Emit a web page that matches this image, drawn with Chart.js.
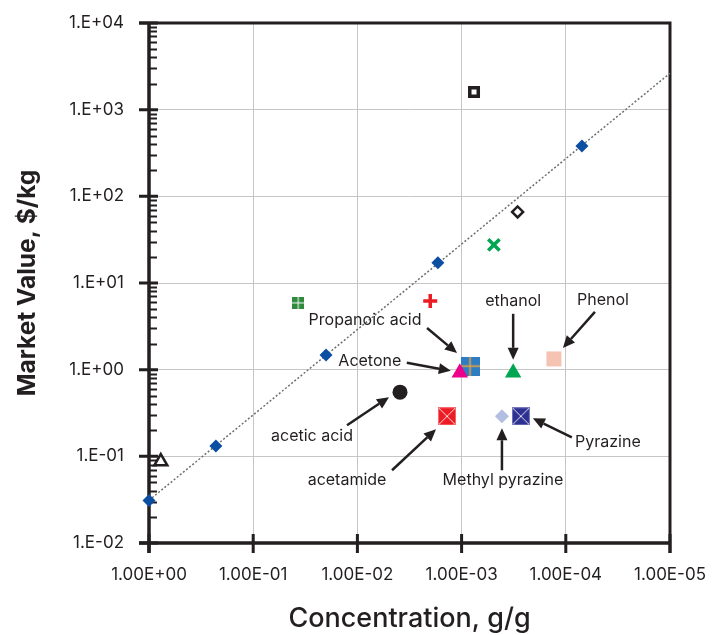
<!DOCTYPE html>
<html>
<head>
<meta charset="utf-8">
<script src="https://cdn.jsdelivr.net/npm/chart.js@4"></script>
<style>
  html, body { margin: 0; padding: 0; background: #fff; }
  #wrap { width: 713px; height: 635px; }
</style>
</head>
<body>
<div id="wrap"><canvas id="chart" width="713" height="635"></canvas></div>
<script>
// blue diamonds that the dotted trend line is fitted to
const trendConc = [1.0, 0.228, 0.020, 0.00169, 0.00007];
const trendValue = [0.031, 0.132, 1.48, 17.1, 381];

// labelled compounds
const compoundNames = ['acetic acid', 'Acetone', 'Propanoic acid', 'ethanol', 'Phenol', 'acetamide', 'Methyl pyrazine', 'Pyrazine'];
const compoundConc = [0.0039, 0.00104, 0.00083, 0.00032, 0.00013, 0.00138, 0.00041, 0.00027];
const compoundValue = [0.55, 0.92, 1.1, 0.92, 1.33, 0.29, 0.29, 0.29];

// unlabelled compounds
const otherConc = [0.77, 0.037, 0.0020, 0.00076, 0.00029, 0.00049];
const otherValue = [0.087, 5.9, 6.2, 1600, 66, 27.5];

const xTickValues = [1, 1e-1, 1e-2, 1e-3, 1e-4, 1e-5];
const xTickLabels = ['1.00E+00', '1.00E-01', '1.00E-02', '1.00E-03', '1.00E-04', '1.00E-05'];
const yTickValues = [1e-2, 1e-1, 1, 1e1, 1e2, 1e3, 1e4];
const yTickLabels = ['1.E-02', '1.E-01', '1.E+00', '1.E+01', '1.E+02', '1.E+03', '1.E+04'];

const FONT = 'Inter, "Open Sans", sans-serif';
const INK = '#231f20';

function marker(size, draw) {
    const c = document.createElement('canvas');
    c.width = size;
    c.height = size;
    draw(c.getContext('2d'), size);
    return c;
}

function gridSquare(size, fill, line, lw) {
    return marker(size, function (g, s) {
        g.fillStyle = fill;
        g.fillRect(0, 0, s, s);
        g.strokeStyle = line;
        g.lineWidth = lw;
        g.beginPath();
        g.moveTo(s / 2, 0); g.lineTo(s / 2, s);
        g.moveTo(0, s / 2); g.lineTo(s, s / 2);
        g.stroke();
    });
}

function xSquare(size, fill) {
    return marker(size, function (g, s) {
        g.fillStyle = fill;
        g.fillRect(0, 0, s, s);
        g.strokeStyle = 'rgba(255,255,255,0.85)';
        g.lineWidth = 1;
        g.beginPath();
        g.moveTo(1, 1); g.lineTo(s - 1, s - 1);
        g.moveTo(s - 1, 1); g.lineTo(1, s - 1);
        g.stroke();
        g.strokeStyle = 'rgba(255,255,255,0.35)';
        g.strokeRect(0.5, 0.5, s - 1, s - 1);
    });
}

// one style per point, same order as the arrays above
const compoundStyles = [
    { pointStyle: 'circle', radius: 7.5, bg: INK, border: INK, bw: 0 },
    { pointStyle: 'triangle', radius: 9.5, bg: '#ec008c', border: '#ec008c', bw: 0 },
    { pointStyle: gridSquare(19, '#2e7dc2', '#f0a33c', 1.5), radius: 9, bg: '#2e7dc2', border: '#2e7dc2', bw: 0 },
    { pointStyle: 'triangle', radius: 9.5, bg: '#00a651', border: '#00a651', bw: 0 },
    { pointStyle: 'rect', radius: 10.6, bg: '#f5c3b2', border: '#f5c3b2', bw: 0 },
    { pointStyle: xSquare(18, '#ed1c24'), radius: 9, bg: '#ed1c24', border: '#ed1c24', bw: 0 },
    { pointStyle: 'rectRot', radius: 7, bg: '#b3bfe1', border: '#b3bfe1', bw: 0 },
    { pointStyle: xSquare(18, '#2e3192'), radius: 9, bg: '#2e3192', border: '#2e3192', bw: 0 }
];

const otherStyles = [
    { pointStyle: 'triangle', radius: 7.5, bg: '#fff', border: INK, bw: 2.5 },
    { pointStyle: gridSquare(12, '#2f8a3c', '#fff', 1), radius: 6, bg: '#2f8a3c', border: '#2f8a3c', bw: 0 },
    { pointStyle: 'cross', radius: 7, bg: '#ec1c24', border: '#ec1c24', bw: 3.5 },
    { pointStyle: 'rect', radius: 6, bg: '#fff', border: INK, bw: 3.5 },
    { pointStyle: 'rectRot', radius: 5.5, bg: '#fff', border: INK, bw: 2.5 },
    { pointStyle: 'crossRot', radius: 8, bg: '#00a651', border: '#00a651', bw: 3.5 }
];

// label placement, pixel offsets from the marker it points at
const annotations = [
    { name: 'Propanoic acid', text: [-105, -46], from: [-43, -38], to: [-13, -13] },
    { name: 'Acetone', text: [-90, -12], from: [-53, -10], to: [-9, -2] },
    { name: 'acetic acid', text: [-88, 44], from: [-53, 33], to: [-11, 5] },
    { name: 'acetamide', text: [-100, 64], from: [-55, 54], to: [-11, 13] },
    { name: 'ethanol', text: [0, -72], from: [0, -59], to: [0, -13] },
    { name: 'Phenol', text: [49, -59], from: [41, -47], to: [9, -11] },
    { name: 'Pyrazine', text: [87, 26], from: [51, 21], to: [12, 2] },
    { name: 'Methyl pyrazine', text: [1, 64], from: [0, 54], to: [0, 12] }
];

// power-law fit of the blue diamonds, in log-log space
function fitTrend() {
    const lx = trendConc.map(Math.log10);
    const ly = trendValue.map(Math.log10);
    const n = lx.length;
    const mx = lx.reduce((a, b) => a + b, 0) / n;
    const my = ly.reduce((a, b) => a + b, 0) / n;
    let sxy = 0, sxx = 0;
    for (let i = 0; i < n; i++) {
        sxy += (lx[i] - mx) * (ly[i] - my);
        sxx += (lx[i] - mx) * (lx[i] - mx);
    }
    const slope = sxy / sxx;
    const icpt = my - slope * mx;
    const ends = [xTickValues[0], xTickValues[xTickValues.length - 1]];
    return ends.map(x => ({ x: x, y: Math.pow(10, icpt + slope * Math.log10(x)) }));
}

const datasets = [];

datasets.push({
    label: 'trend',
    data: fitTrend(),
    showLine: true,
    pointRadius: 0,
    borderColor: '#6d6e71',
    borderWidth: 1.5,
    borderDash: [2, 2],
    order: 10
});

datasets.push({
    label: 'fit points',
    data: trendConc.map((x, i) => ({ x: x, y: trendValue[i] })),
    pointStyle: 'rectRot',
    pointRadius: 6.5,
    backgroundColor: '#0b4ea2',
    borderColor: '#0b4ea2',
    borderWidth: 0,
    order: 5
});

otherConc.forEach(function (x, i) {
    const s = otherStyles[i];
    datasets.push({
        label: 'other ' + i,
        data: [{ x: x, y: otherValue[i] }],
        pointStyle: s.pointStyle,
        pointRadius: s.radius,
        backgroundColor: s.bg,
        borderColor: s.border,
        borderWidth: s.bw,
        order: 3
    });
});

compoundNames.forEach(function (name, i) {
    const s = compoundStyles[i];
    datasets.push({
        label: name,
        data: [{ x: compoundConc[i], y: compoundValue[i] }],
        pointStyle: s.pointStyle,
        pointRadius: s.radius,
        backgroundColor: s.bg,
        borderColor: s.border,
        borderWidth: s.bw,
        order: 1
    });
});

datasets.forEach(d => { d.clip = false; });

// keep tick labels from pushing the plot area around
function noEdgePadding(scale) {
    scale.paddingLeft = 0;
    scale.paddingRight = 0;
    scale.paddingTop = 0;
    scale.paddingBottom = 0;
}

const framePlugin = {
    id: 'frame',
    beforeDatasetsDraw(chart) {
        const { ctx, chartArea: a } = chart;
        const ys = chart.scales.y;
        const xs = chart.scales.x;
        ctx.save();
        ctx.strokeStyle = INK;
        ctx.lineCap = 'butt';

        // minor ticks on the value axis, inside the frame
        ctx.lineWidth = 1.8;
        ctx.beginPath();
        for (let d = 0; d < yTickValues.length - 1; d++) {
            for (let m = 2; m <= 9; m++) {
                const py = Math.round(ys.getPixelForValue(yTickValues[d] * m)) + 0.5;
                ctx.moveTo(a.left, py);
                ctx.lineTo(a.left + 8, py);
            }
        }
        ctx.stroke();

        // major ticks crossing the axes
        ctx.lineWidth = 3;
        ctx.beginPath();
        yTickValues.forEach(v => {
            const py = ys.getPixelForValue(v);
            ctx.moveTo(a.left - 10, py);
            ctx.lineTo(a.left + 9, py);
        });
        xTickValues.forEach(v => {
            const px = xs.getPixelForValue(v);
            ctx.moveTo(px, a.bottom - 9);
            ctx.lineTo(px, a.bottom + 10);
        });
        ctx.stroke();

        // frame
        ctx.lineWidth = 3;
        ctx.beginPath();
        ctx.moveTo(a.left - 10, a.top);
        ctx.lineTo(a.right + 1.5, a.top);
        ctx.moveTo(a.right, a.top);
        ctx.lineTo(a.right, a.bottom + 10);
        ctx.stroke();

        ctx.lineWidth = 3.5;
        ctx.beginPath();
        ctx.moveTo(a.left, a.top);
        ctx.lineTo(a.left, a.bottom + 10);
        ctx.moveTo(a.left - 10, a.bottom);
        ctx.lineTo(a.right, a.bottom);
        ctx.stroke();
        ctx.restore();
    }
};

const labelPlugin = {
    id: 'labels',
    afterDatasetsDraw(chart) {
        const { ctx } = chart;
        const xs = chart.scales.x;
        const ys = chart.scales.y;
        ctx.save();
        ctx.font = '16px ' + FONT;
        ctx.fillStyle = INK;
        ctx.strokeStyle = INK;
        ctx.textAlign = 'center';
        ctx.textBaseline = 'middle';
        annotations.forEach(function (an) {
            const i = compoundNames.indexOf(an.name);
            const px = xs.getPixelForValue(compoundConc[i]);
            const py = ys.getPixelForValue(compoundValue[i]);
            ctx.fillText(an.name, px + an.text[0], py + an.text[1]);

            const x0 = px + an.from[0], y0 = py + an.from[1];
            const x1 = px + an.to[0], y1 = py + an.to[1];
            const ang = Math.atan2(y1 - y0, x1 - x0);
            const head = 12, half = 5.5;
            const bx = x1 - Math.cos(ang) * head, by = y1 - Math.sin(ang) * head;
            ctx.lineWidth = 2.5;
            ctx.beginPath();
            ctx.moveTo(x0, y0);
            ctx.lineTo(bx, by);
            ctx.stroke();
            ctx.beginPath();
            ctx.moveTo(x1, y1);
            ctx.lineTo(bx - Math.sin(ang) * half, by + Math.cos(ang) * half);
            ctx.lineTo(bx + Math.sin(ang) * half, by - Math.cos(ang) * half);
            ctx.closePath();
            ctx.fill();
        });
        ctx.restore();
    }
};

new Chart(document.getElementById('chart'), {
    type: 'scatter',
    data: { datasets: datasets },
    options: {
        responsive: false,
        animation: false,
        events: [],
        layout: { padding: { top: 23, right: 43, left: 0, bottom: 0 } },
        plugins: {
            legend: { display: false },
            tooltip: { enabled: false }
        },
        scales: {
            x: {
                type: 'logarithmic',
                reverse: true,
                min: 1e-5,
                max: 1,
                afterBuildTicks: function (scale) {
                    scale.ticks = xTickValues.map(v => ({ value: v }));
                },
                afterFit: function (scale) {
                    scale.height = 92;
                    noEdgePadding(scale);
                },
                border: { display: false },
                grid: { color: '#c6c6c6', lineWidth: 1, drawTicks: false },
                ticks: {
                    autoSkip: false,
                    maxRotation: 0,
                    padding: 22,
                    color: INK,
                    font: { family: FONT, size: 17 },
                    callback: function (v, i) { return xTickLabels[i]; }
                },
                title: {
                    display: true,
                    text: 'Concentration, g/g',
                    color: INK,
                    font: { family: FONT, size: 27, weight: '500' },
                    padding: { top: 0, bottom: 0 }
                }
            },
            y: {
                type: 'logarithmic',
                min: 1e-2,
                max: 1e4,
                afterBuildTicks: function (scale) {
                    scale.ticks = yTickValues.map(v => ({ value: v }));
                },
                afterFit: function (scale) {
                    scale.width = 149;
                    noEdgePadding(scale);
                },
                border: { display: false },
                grid: { color: '#c6c6c6', lineWidth: 1, drawTicks: false },
                ticks: {
                    autoSkip: false,
                    padding: 25,
                    color: INK,
                    font: { family: FONT, size: 17 },
                    callback: function (v, i) { return yTickLabels[i]; }
                },
                title: {
                    display: true,
                    text: 'Market Value, $/kg',
                    color: INK,
                    font: { family: FONT, size: 24.5, weight: 'bold' },
                    padding: { top: 13, bottom: 0 }
                }
            }
        }
    },
    plugins: [framePlugin, labelPlugin]
});
</script>
</body>
</html>
